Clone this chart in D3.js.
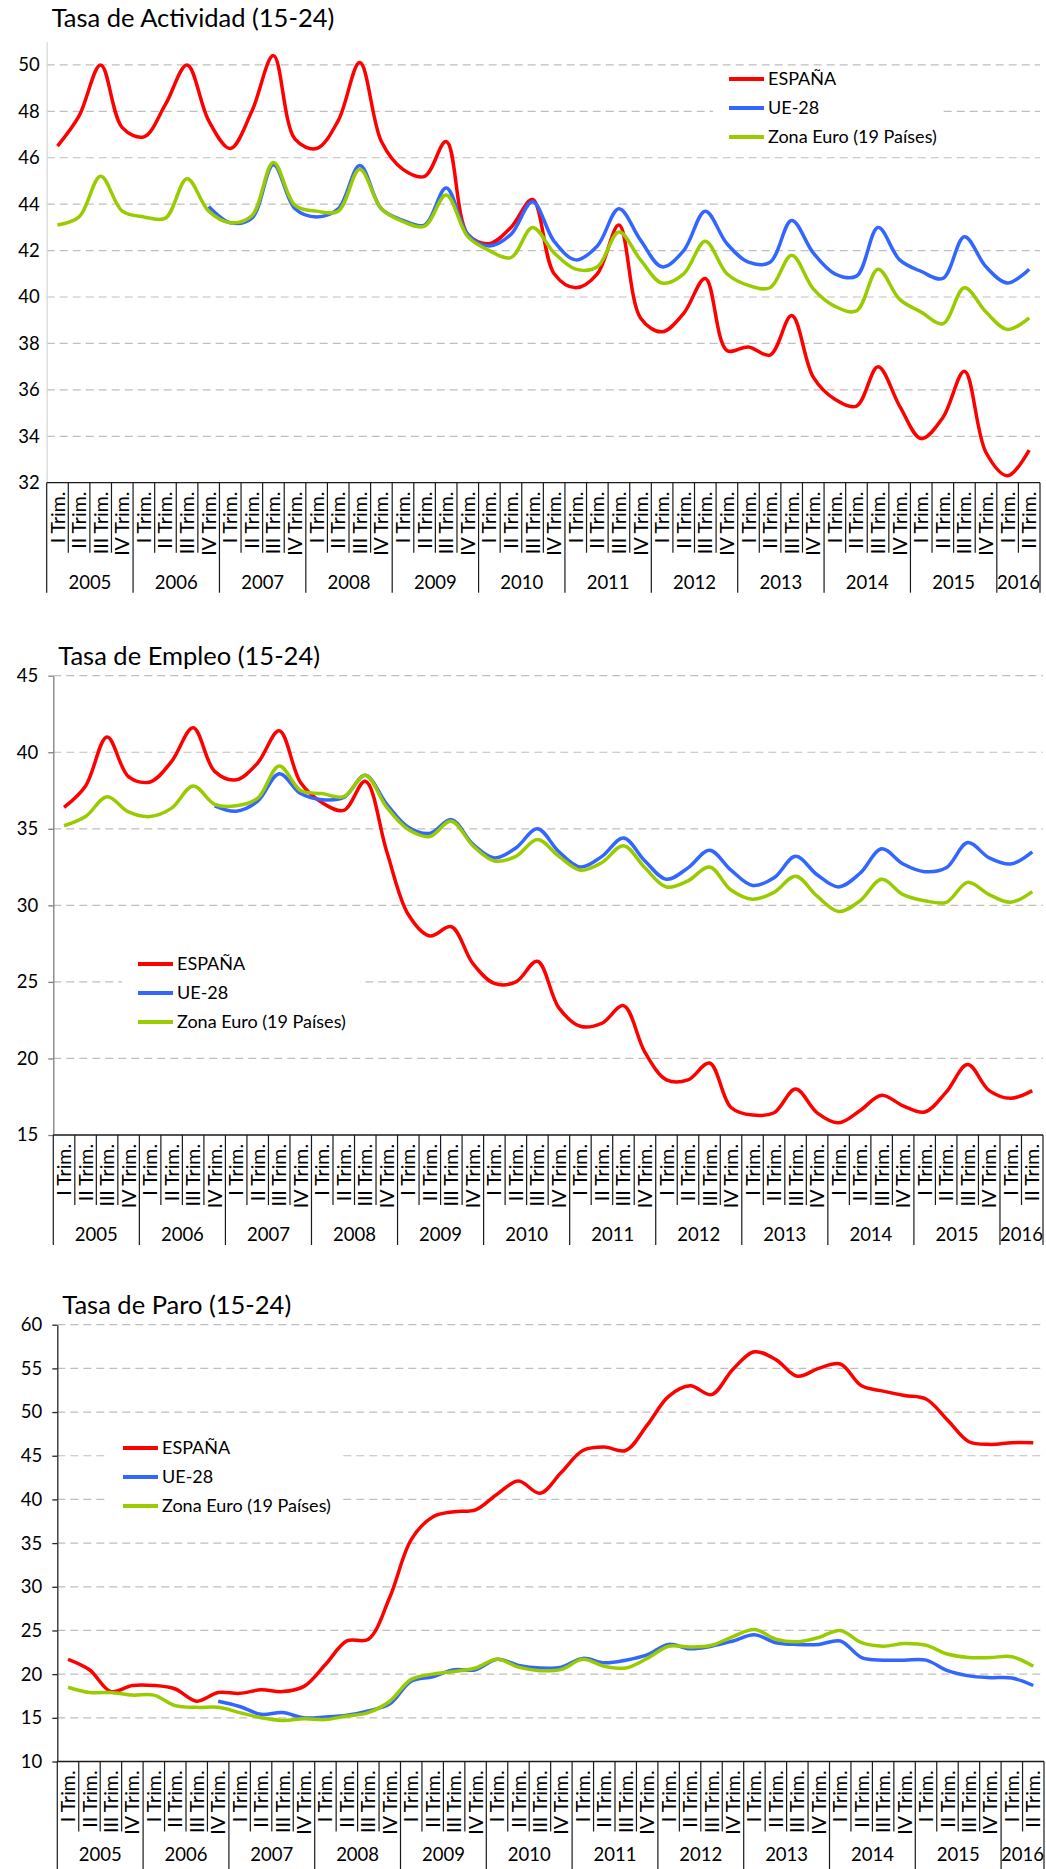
<!DOCTYPE html>
<html>
<head>
<meta charset="utf-8">
<script src="https://cdnjs.cloudflare.com/ajax/libs/d3/7.8.5/d3.min.js"></script>
<style>
  body { margin: 0; background: #fff; }
  svg { display: block; }
  text { font-family: Lato, "Open Sans", sans-serif; fill: #000; }
</style>
</head>
<body>
<svg id="chart" width="1046" height="1869"></svg>
<script>
// categories
const years = ["2005", "2006", "2007", "2008", "2009", "2010", "2011", "2012", "2013", "2014", "2015", "2016"];
const quarters = ["I Trim.", "II Trim.", "III Trim.", "IV Trim."];
const seriesNames = ["ESPAÑA", "UE-28", "Zona Euro (19 Países)"];
const seriesColors = ["#FF0000", "#3366FF", "#99CC00"];

// Tasa de Actividad (15-24)
const actividadEspana = [46.5, 47.8, 50.0, 47.3, 46.9, 48.3, 50.0, 47.6, 46.4, 48.0, 50.4, 46.8, 46.4, 47.6, 50.1, 46.7, 45.5, 45.2, 46.7, 42.7, 42.3, 43.0, 44.2, 41.0, 40.4, 41.0, 43.1, 39.1, 38.5, 39.3, 40.8, 37.7, 37.85, 37.5, 39.2, 36.55, 35.6, 35.3, 37.0, 35.3, 33.9, 34.8, 36.8, 33.3, 32.3, 33.4];
const actividadUE = [null, null, null, null, null, null, null, 43.9, 43.2, 43.4, 45.7, 43.8, 43.45, 43.8, 45.67, 43.8, 43.3, 43.1, 44.7, 42.7, 42.2, 42.7, 44.1, 42.4, 41.6, 42.2, 43.8, 42.45, 41.3, 42.0, 43.7, 42.3, 41.5, 41.5, 43.3, 41.9, 41.0, 40.9, 43.0, 41.6, 41.1, 40.8, 42.6, 41.3, 40.6, 41.2];
const actividadZona = [43.1, 43.45, 45.2, 43.7, 43.45, 43.4, 45.1, 43.7, 43.2, 43.5, 45.8, 43.95, 43.7, 43.7, 45.5, 43.8, 43.25, 43.05, 44.4, 42.6, 42.0, 41.7, 43.0, 41.9, 41.2, 41.3, 42.8, 41.6, 40.6, 41.0, 42.4, 41.0, 40.5, 40.4, 41.8, 40.35, 39.6, 39.4, 41.2, 39.9, 39.35, 38.85, 40.4, 39.35, 38.6, 39.1];

// Tasa de Empleo (15-24)
const empleoEspana = [36.4, 37.8, 41.0, 38.4, 38.06, 39.4, 41.6, 38.75, 38.2, 39.3, 41.4, 38.0, 36.7, 36.2, 38.1, 33.5, 29.4, 28.0, 28.6, 26.2, 24.9, 25.0, 26.35, 23.3, 22.1, 22.3, 23.45, 20.4, 18.6, 18.6, 19.7, 16.8, 16.3, 16.45, 18.0, 16.45, 15.8, 16.6, 17.6, 16.9, 16.5, 17.8, 19.6, 17.9, 17.4, 17.9];
const empleoUE = [null, null, null, null, null, null, null, 36.5, 36.15, 36.8, 38.6, 37.3, 36.9, 37.05, 38.5, 36.6, 35.1, 34.7, 35.6, 34.0, 33.1, 33.75, 35.0, 33.5, 32.5, 33.2, 34.4, 32.9, 31.7, 32.45, 33.6, 32.3, 31.3, 31.8, 33.2, 32.0, 31.2, 32.1, 33.7, 32.7, 32.2, 32.45, 34.1, 33.1, 32.7, 33.5];
const empleoZona = [35.2, 35.8, 37.1, 36.1, 35.8, 36.35, 37.8, 36.6, 36.5, 37.0, 39.1, 37.5, 37.3, 37.1, 38.5, 36.4, 34.95, 34.5, 35.5, 33.9, 32.9, 33.2, 34.3, 33.2, 32.3, 32.8, 33.9, 32.45, 31.2, 31.6, 32.5, 31.0, 30.4, 30.85, 31.9, 30.6, 29.6, 30.3, 31.7, 30.7, 30.3, 30.2, 31.5, 30.7, 30.2, 30.9];

// Tasa de Paro (15-24)
const paroEspana = [21.7, 20.5, 18.0, 18.7, 18.7, 18.3, 16.9, 17.9, 17.8, 18.2, 18.0, 18.6, 21.1, 23.8, 24.0, 28.8, 35.4, 38.0, 38.6, 38.8, 40.6, 42.1, 40.7, 43.1, 45.6, 46.0, 45.6, 48.5, 51.8, 53.0, 52.0, 54.9, 56.9, 56.0, 54.1, 55.0, 55.5, 53.0, 52.4, 51.9, 51.5, 49.1, 46.6, 46.3, 46.5, 46.5];
const paroUE = [null, null, null, null, null, null, null, 16.9, 16.3, 15.4, 15.6, 15.0, 15.1, 15.3, 15.8, 16.6, 19.2, 19.7, 20.5, 20.5, 21.7, 21.0, 20.7, 20.8, 21.8, 21.3, 21.6, 22.2, 23.4, 22.9, 23.2, 23.8, 24.5, 23.6, 23.4, 23.4, 23.8, 21.9, 21.6, 21.6, 21.6, 20.4, 19.8, 19.6, 19.55, 18.7];
const paroZona = [18.5, 17.9, 17.9, 17.6, 17.6, 16.4, 16.2, 16.2, 15.6, 15.0, 14.7, 14.9, 14.8, 15.2, 15.6, 16.9, 19.4, 20.0, 20.3, 20.7, 21.7, 20.8, 20.4, 20.55, 21.7, 20.9, 20.7, 21.8, 23.2, 23.1, 23.3, 24.3, 25.1, 24.0, 23.7, 24.2, 25.0, 23.6, 23.2, 23.5, 23.3, 22.3, 21.9, 21.9, 22.0, 20.9];

const nCat = actividadEspana.length;
// one entry per quarter: {year, label}
const categories = years.flatMap(y => quarters.map(q => ({ year: y, label: q }))).slice(0, nCat);

const svg = d3.select("#chart");

function drawChart(cfg) {
  const g = svg.append("g");
  const x = d3.scaleBand().domain(d3.range(nCat)).range([cfg.left, cfg.right]);
  const y = d3.scaleLinear().domain(cfg.domain).range([cfg.bottom, cfg.top]);
  const bw = x.bandwidth();

  // title
  g.append("text")
    .attr("x", cfg.left + 5)
    .attr("y", cfg.titleY)
    .attr("font-size", 25.5)
    .text(cfg.title);

  // dashed gridlines
  g.append("g").selectAll("line")
    .data(cfg.ticks.filter(t => t > cfg.domain[0]))
    .join("line")
    .attr("x1", cfg.left).attr("x2", cfg.right)
    .attr("y1", d => y(d)).attr("y2", d => y(d))
    .attr("stroke", "#BFBFBF")
    .attr("stroke-width", 1.2)
    .attr("stroke-dasharray", "8,5");

  // y axis
  let yAxis = d3.axisLeft(y)
    .tickValues(cfg.ticks)
    .tickSize(cfg.tickLen)
    .tickSizeOuter(0)
    .tickPadding(cfg.pad)
    .tickFormat(d3.format("d"));
  let ya = g.append("g")
    .attr("transform", "translate(" + cfg.left + ",0)")
    .call(yAxis)
    .attr("font-family", null)
    .attr("font-size", 18.5);
  ya.select(".domain").attr("stroke", cfg.axisColor).attr("stroke-width", 1.3);
  ya.selectAll(".tick line").attr("stroke", cfg.axisColor).attr("stroke-width", 1.3);
  ya.selectAll(".tick text").attr("fill", "#000");

  // x axis line + category separators
  g.append("line")
    .attr("x1", cfg.left).attr("x2", cfg.right)
    .attr("y1", cfg.bottom).attr("y2", cfg.bottom)
    .attr("stroke", "#1a1a1a").attr("stroke-width", 1.3);

  g.append("g").selectAll("line")
    .data(d3.range(nCat + 1))
    .join("line")
    .attr("x1", i => i < nCat ? x(i) : cfg.right)
    .attr("x2", i => i < nCat ? x(i) : cfg.right)
    .attr("y1", cfg.bottom)
    .attr("y2", i => (i % 4 == 0 || i == nCat) ? cfg.bottom + 110 : cfg.bottom + 70)
    .attr("stroke", "#1a1a1a").attr("stroke-width", 1.2);

  // rotated quarter labels
  g.append("g").selectAll("text")
    .data(categories)
    .join("text")
    .attr("transform", (d, i) => "translate(" + (x(i) + bw / 2) + "," + (cfg.bottom + 9) + ") rotate(-90)")
    .attr("text-anchor", "end")
    .attr("dy", "0.36em")
    .attr("font-size", 19.5)
    .text(d => d.label);

  // year labels centered under their quarters
  g.append("g").selectAll("text")
    .data(years)
    .join("text")
    .attr("x", (d, j) => {
      let s = j * 4, e = Math.min(j * 4 + 4, nCat);
      let xe = e < nCat ? x(e) : cfg.right;
      return (x(s) + xe) / 2;
    })
    .attr("y", cfg.bottom + cfg.yearDy)
    .attr("text-anchor", "middle")
    .attr("font-size", 18.5)
    .text(d => d);

  // series
  let line = d3.line()
    .defined(d => d != null)
    .x((d, i) => x(i) + bw / 2)
    .y(d => y(d))
    .curve(d3.curveCatmullRom.alpha(0.5));

  g.append("g").selectAll("path")
    .data(cfg.series)
    .join("path")
    .attr("d", d => line(d))
    .attr("fill", "none")
    .attr("stroke", (d, k) => seriesColors[k])
    .attr("stroke-width", 3.5)
    .attr("stroke-linejoin", "round");

  // legend (white box hides the gridlines behind it)
  let lg = g.append("g");
  lg.append("rect")
    .attr("x", cfg.legend.x).attr("y", cfg.legend.y)
    .attr("width", cfg.legend.w).attr("height", cfg.legend.h)
    .attr("fill", "#fff");
  seriesNames.forEach((name, k) => {
    let ly = cfg.legend.y + 12 + k * 29;
    lg.append("line")
      .attr("x1", cfg.legend.x + 16).attr("x2", cfg.legend.x + 51)
      .attr("y1", ly).attr("y2", ly)
      .attr("stroke", seriesColors[k]).attr("stroke-width", 4);
    lg.append("text")
      .attr("x", cfg.legend.x + 55).attr("y", ly)
      .attr("dy", "0.36em")
      .attr("font-size", 18)
      .text(name);
  });
}

drawChart({
  title: "Tasa de Actividad (15-24)", titleY: 27,
  left: 46.7, right: 1040, top: 41.7, bottom: 482.7,
  domain: [32, 51], ticks: d3.range(32, 51, 2),
  axisColor: "#D9D9D9", tickLen: 0, pad: 7, yearDy: 106,
  series: [actividadEspana, actividadUE, actividadZona],
  legend: { x: 713, y: 67, w: 228, h: 86 }
});

drawChart({
  title: "Tasa de Empleo (15-24)", titleY: 665,
  left: 53.3, right: 1043, top: 675.7, bottom: 1135,
  domain: [15, 45], ticks: d3.range(15, 46, 5),
  axisColor: "#7F7F7F", tickLen: 5, pad: 10, yearDy: 106,
  series: [empleoEspana, empleoUE, empleoZona],
  legend: { x: 122, y: 952, w: 238, h: 86 }
});

drawChart({
  title: "Tasa de Paro (15-24)", titleY: 1314,
  left: 57.3, right: 1044, top: 1324.7, bottom: 1761.5,
  domain: [10, 60], ticks: d3.range(10, 61, 5),
  axisColor: "#262626", tickLen: 5, pad: 10, yearDy: 99,
  series: [paroEspana, paroUE, paroZona],
  legend: { x: 107, y: 1436, w: 236, h: 86 }
});
</script>
</body>
</html>
